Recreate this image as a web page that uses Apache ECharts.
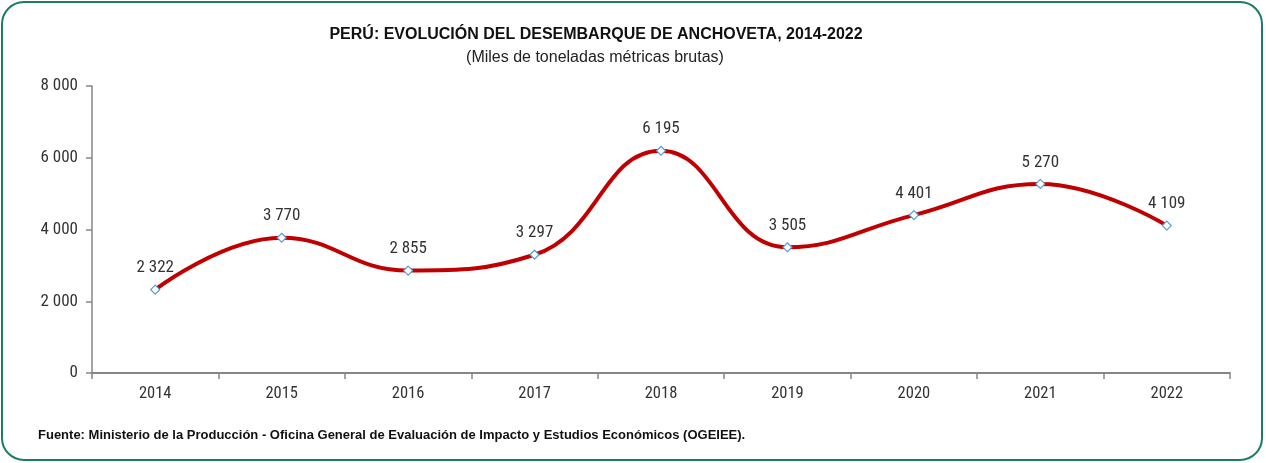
<!DOCTYPE html>
<html>
<head>
<meta charset="utf-8">
<script src="https://cdn.jsdelivr.net/npm/echarts@6/dist/echarts.min.js"></script>
<style>
  html, body { margin: 0; padding: 0; background: #fff; }
  #chart { width: 1266px; height: 463px; }
</style>
</head>
<body>
<div id="chart"></div>
<script>
const years = ['2014', '2015', '2016', '2017', '2018', '2019', '2020', '2021', '2022']
const landings = [2322, 3770, 2855, 3297, 6195, 3505, 4401, 5270, 4109]

const arial = "'Liberation Sans', Arial, sans-serif"
const narrow = "'Roboto Condensed', 'Arial Narrow', 'Liberation Sans', sans-serif"
// miles con espacio: 6195 -> "6 195"
const fmt = v => String(v).replace(/\B(?=(\d{3})+(?!\d))/g, ' ')

const chart = echarts.init(document.getElementById('chart'))
chart.setOption({
  animation: false,
  title: [
    {
      text: 'PERÚ: EVOLUCIÓN DEL DESEMBARQUE DE ANCHOVETA, 2014-2022',
      left: 591, top: 22, textAlign: 'center',
      textStyle: { fontFamily: arial, fontSize: 16, fontWeight: 'bold', color: '#111' }
    },
    {
      text: '(Miles de toneladas métricas brutas)',
      left: 590, top: 45, textAlign: 'center',
      textStyle: { fontFamily: arial, fontSize: 16, fontWeight: 'normal', color: '#222' }
    },
    {
      text: 'Fuente: Ministerio de la Producción - Oficina General de Evaluación de Impacto y Estudios Económicos (OGEIEE).',
      left: 33, top: 424,
      textStyle: { fontFamily: arial, fontSize: 13, fontWeight: 'bold', color: '#111' }
    }
  ],
  graphic: [{
    type: 'rect',
    shape: { x: 2, y: 2, width: 1260, height: 458, r: 22 },
    style: { fill: 'none', stroke: '#1e7b66', lineWidth: 2 },
    silent: true
  }],
  grid: { left: 92, right: 36, top: 86, bottom: 90 },
  xAxis: {
    type: 'category',
    data: years,
    boundaryGap: true,
    axisLine: { lineStyle: { color: '#868686', width: 2 } },
    axisTick: { show: true, length: 6, lineStyle: { color: '#868686', width: 1.5 } },
    axisLabel: { fontFamily: narrow, fontSize: 16.5, color: '#333', margin: 12 }
  },
  yAxis: {
    type: 'value',
    min: 0, max: 8000, interval: 2000,
    splitLine: { show: false },
    axisLine: { show: true, lineStyle: { color: '#868686', width: 1.5 } },
    axisTick: { show: true, length: 6, lineStyle: { color: '#868686', width: 1.5 } },
    axisLabel: { fontFamily: narrow, fontSize: 17, color: '#333', margin: 14, formatter: fmt }
  },
  series: [{
    type: 'line',
    data: landings,
    smooth: 0.45,
    symbol: 'diamond',
    symbolSize: 9,
    itemStyle: { color: '#fff', borderColor: '#5b9bd5', borderWidth: 1.2 },
    lineStyle: { color: '#c00000', width: 4 },
    label: {
      show: true, position: 'top', distance: 8,
      fontFamily: narrow, fontSize: 17, color: '#333',
      formatter: p => fmt(p.value)
    },
    z: 3
  }]
})
</script>
</body>
</html>
